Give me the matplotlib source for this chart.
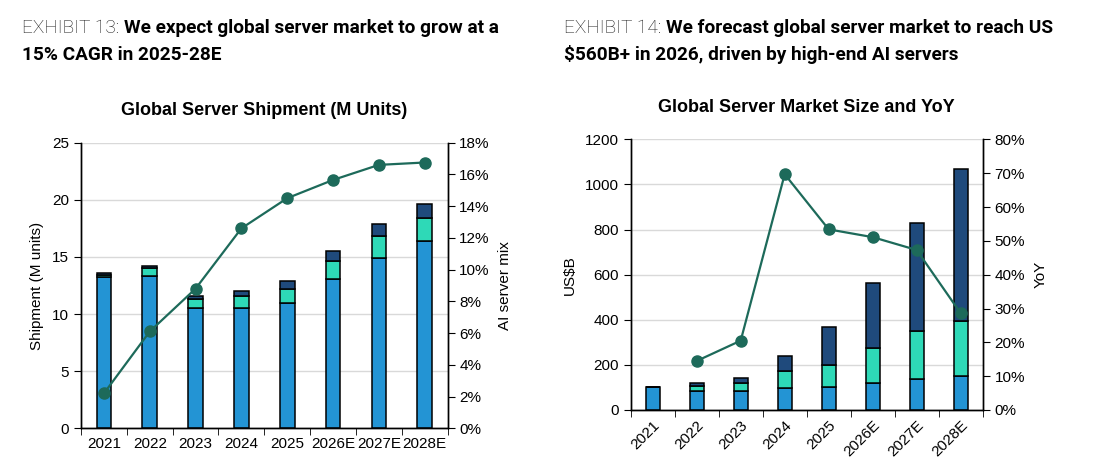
import numpy as np
import matplotlib.pyplot as plt
from matplotlib.ticker import FixedLocator, PercentFormatter

years = ["2021", "2022", "2023", "2024", "2025", "2026E", "2027E", "2028E"]

# Exhibit 13: shipment, M units (stacked segments, bottom to top)
ship_base = [13.2, 13.3, 10.5, 10.5, 11.0, 13.1, 14.9, 16.35]
ship_mid = [0.2, 0.7, 0.8, 1.1, 1.15, 1.5, 1.9, 2.1]
ship_high = [0.15, 0.2, 0.25, 0.4, 0.7, 0.95, 1.1, 1.2]
ai_mix = [2.2, 6.1, 8.8, 12.6, 14.5, 15.65, 16.6, 16.75]

# Exhibit 14: market size, US$B
mkt_base = [100, 86, 84, 98, 103, 120, 139, 151]
mkt_mid = [1, 20, 34, 75, 97, 153, 211, 244]
mkt_high = [1, 12, 25, 68, 169, 289, 478, 672]
mkt_yoy = [np.nan, 14.5, 20.5, 69.7, 53.4, 51.1, 47.3, 28.6]

C_BASE = "#2394d4"
C_MID = "#2ed9b7"
C_HIGH = "#1f4a7c"
C_LINE = "#1d6a5a"

plt.rcParams["font.family"] = ["Liberation Sans", "DejaVu Sans"]
plt.rcParams["axes.linewidth"] = 1.0

fig = plt.figure(figsize=(11.04, 4.69), dpi=100)


def panel(rect, base, mid, high, line, ymax, ystep, ymax2, ystep2, ylabel, ylabel2, title, rotate):
    ax = fig.add_axes(rect)
    x = np.arange(len(years))
    w = 0.32
    kw = dict(width=w, edgecolor="black", linewidth=1.1, zorder=3)
    ax.bar(x, base, color=C_BASE, **kw)
    ax.bar(x, mid, bottom=base, color=C_MID, **kw)
    ax.bar(x, high, bottom=np.add(base, mid), color=C_HIGH, **kw)

    ax.set_xlim(-0.5, len(years) - 0.5)
    ax.set_ylim(0, ymax)
    ax.set_yticks(np.arange(0, ymax + ystep / 2, ystep))
    ax.yaxis.grid(True, color="#d9d9d9", linewidth=1.0, zorder=0)
    ax.set_axisbelow(True)
    ax.spines["top"].set_visible(False)
    ax.set_xticks(x)
    ax.set_xticklabels(years, rotation=rotate, ha="right" if rotate else "center",
                       rotation_mode="anchor" if rotate else "default")
    ax.xaxis.set_minor_locator(FixedLocator(np.arange(-0.5, len(years), 1.0)))
    ax.tick_params(axis="x", which="major", length=0, labelsize=11, pad=6)
    ax.tick_params(axis="x", which="minor", length=5, direction="out")
    ax.tick_params(axis="y", length=5, direction="out", labelsize=11)
    ax.set_ylabel(ylabel, fontsize=11, labelpad=6)
    ax.set_title(title, fontsize=13, fontweight="bold", pad=20)

    ax2 = ax.twinx()
    ax2.plot(x, line, color=C_LINE, linewidth=1.6, marker="o", markersize=8,
             markerfacecolor=C_LINE, markeredgecolor=C_LINE, zorder=5)
    ax2.set_ylim(0, ymax2)
    ax2.set_yticks(np.arange(0, ymax2 + ystep2 / 2, ystep2))
    ax2.yaxis.set_major_formatter(PercentFormatter(decimals=0))
    ax2.spines["top"].set_visible(False)
    ax2.tick_params(axis="y", length=5, direction="out", labelsize=11)
    ax2.set_ylabel(ylabel2, fontsize=11, labelpad=6)
    return ax, ax2


panel([0.0734, 0.0868, 0.332, 0.609], ship_base, ship_mid, ship_high, ai_mix,
      25, 5, 18, 2, "Shipment (M units)", "AI server mix",
      "Global Server Shipment (M Units)", 0)
panel([0.5713, 0.1258, 0.3188, 0.577], mkt_base, mkt_mid, mkt_high, mkt_yoy,
      1200, 200, 80, 10, "US$B", "YoY",
      "Global Server Market Size and YoY", 45)

HEAD_FONT = ["Roboto", "DejaVu Sans"]
renderer = fig.canvas.get_renderer()


def header(x, y, lead, rest, second):
    t = fig.text(x, y, lead, fontsize=13.7, fontweight="light", family=HEAD_FONT, color="#1a1a1a")
    bb = t.get_window_extent(renderer)
    x1 = fig.transFigure.inverted().transform((bb.x1, bb.y0))[0]
    fig.text(x1, y, rest, fontsize=13.7, fontweight="bold", family=HEAD_FONT)
    fig.text(x, y - 0.0576, second, fontsize=13.7, fontweight="bold", family=HEAD_FONT)


header(0.02, 0.93, "EXHIBIT 13: ", "We expect global server market to grow at a", "15% CAGR in 2025-28E")
header(0.511, 0.93, "EXHIBIT 14: ", "We forecast global server market to reach US", "$560B+ in 2026, driven by high-end AI servers")

fig.savefig("out.png", dpi=100)
